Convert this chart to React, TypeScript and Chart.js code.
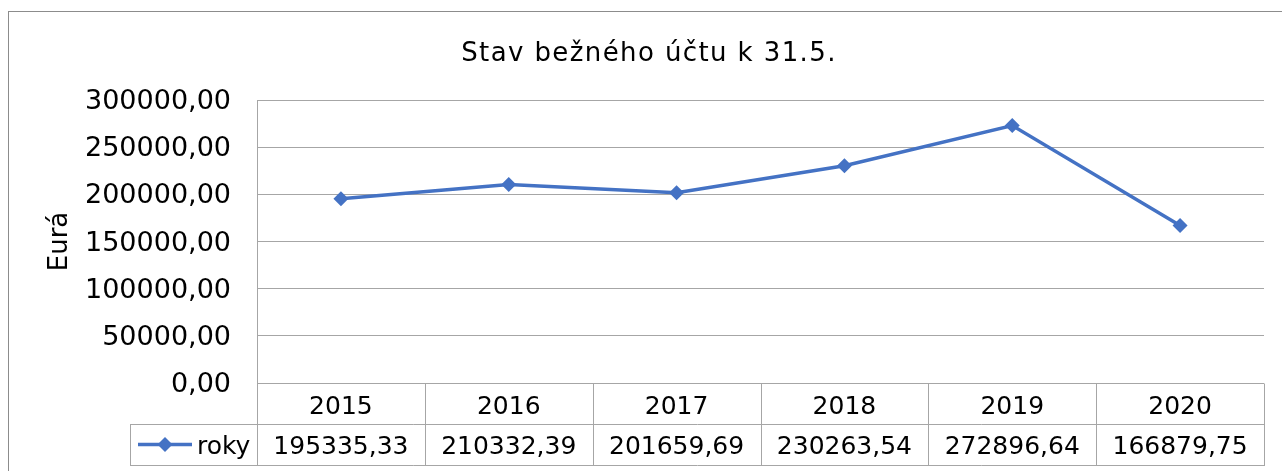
import React, { useEffect, useRef } from "react";
import { Chart, registerables } from "chart.js";

Chart.register(...registerables);

const chartTitle = "Stav bežného účtu k 31.5.";
const yAxisTitle = "Eurá";
const seriesName = "roky";
const categories = ["2015", "2016", "2017", "2018", "2019", "2020"];
const values = [195335.33, 210332.39, 201659.69, 230263.54, 272896.64, 166879.75];
const yMin = 0;
const yMax = 300000;
const yStep = 50000;

const LINE_COLOR = "#4472C4";
const GRID_COLOR = "#a6a6a6";
const FRAME_COLOR = "#8c8c8c";
const TEXT_COLOR = "#000000";
const FONT = "'DejaVu Sans', sans-serif";

const fmt = (v: number) => v.toFixed(2).replace(".", ",");

const al = (v: number) => Math.round(v) + 0.5;

function drawDiamond(ctx: CanvasRenderingContext2D, x: number, y: number, r: number) {
  ctx.beginPath();
  ctx.moveTo(x, y - r);
  ctx.lineTo(x + r, y);
  ctx.lineTo(x, y + r);
  ctx.lineTo(x - r, y);
  ctx.closePath();
  ctx.fill();
}

const framePlugin = {
  id: "frameAndTitle",
  beforeDraw(chart: any) {
    const { ctx } = chart;
    ctx.save();
    ctx.fillStyle = "#ffffff";
    ctx.fillRect(0, 0, chart.width, chart.height);
    ctx.strokeStyle = FRAME_COLOR;
    ctx.lineWidth = 1;
    ctx.strokeRect(8.5, 11.5, chart.width + 20, chart.height + 20);
    ctx.fillStyle = TEXT_COLOR;
    ctx.font = `26px ${FONT}`;
    (ctx as any).letterSpacing = "1.4px";
    ctx.textAlign = "center";
    ctx.textBaseline = "alphabetic";
    ctx.fillText(chartTitle, 649, 61);
    ctx.restore();
  },
};

const tablePlugin = {
  id: "dataTable",
  afterDraw(chart: any) {
    const { ctx, chartArea } = chart;
    const xs = chart.scales.x;
    const n = categories.length;
    const colW = xs.getPixelForValue(1) - xs.getPixelForValue(0);
    const top = chartArea.bottom;
    const rowH = 41;
    const mid = top + rowH;
    const bottom = top + rowH * 2;
    const legendLeft = 130;
    const right = chartArea.right;

    ctx.save();
    ctx.strokeStyle = GRID_COLOR;
    ctx.lineWidth = 1;
    ctx.beginPath();
    ctx.moveTo(legendLeft, al(mid));
    ctx.lineTo(right + 1, al(mid));
    ctx.moveTo(legendLeft, al(bottom));
    ctx.lineTo(right + 1, al(bottom));
    ctx.moveTo(al(legendLeft), al(mid));
    ctx.lineTo(al(legendLeft), al(bottom));
    for (let i = 0; i <= n; i++) {
      const bx = i < n ? xs.getPixelForValue(i) - colW / 2 : xs.getPixelForValue(n - 1) + colW / 2;
      ctx.moveTo(al(bx), al(top));
      ctx.lineTo(al(bx), al(bottom));
    }
    ctx.stroke();

    ctx.fillStyle = TEXT_COLOR;
    ctx.font = `25px ${FONT}`;
    ctx.textAlign = "center";
    ctx.textBaseline = "alphabetic";
    for (let i = 0; i < n; i++) {
      const cx = xs.getPixelForValue(i);
      ctx.fillText(categories[i], cx, top + 30.5);
      ctx.fillText(fmt(values[i]), cx, mid + 30);
    }

    const ly = mid + rowH / 2;
    ctx.strokeStyle = LINE_COLOR;
    ctx.lineWidth = 3.5;
    ctx.beginPath();
    ctx.moveTo(138, ly);
    ctx.lineTo(192, ly);
    ctx.stroke();
    ctx.fillStyle = LINE_COLOR;
    drawDiamond(ctx, 165, ly, 7.5);
    ctx.fillStyle = TEXT_COLOR;
    ctx.textAlign = "left";
    ctx.fillText(seriesName, 197, mid + 30);
    ctx.restore();
  },
};

export default function App() {
  const canvasRef = useRef<HTMLCanvasElement | null>(null);

  useEffect(() => {
    const canvas = canvasRef.current;
    if (!canvas) return;
    const chart = new Chart(canvas, {
      type: "line",
      data: {
        labels: categories,
        datasets: [
          {
            label: seriesName,
            data: values,
            borderColor: LINE_COLOR,
            backgroundColor: LINE_COLOR,
            borderWidth: 3.5,
            pointStyle: "rectRot",
            pointRadius: 7.5,
            pointBorderWidth: 0,
            pointBackgroundColor: LINE_COLOR,
            tension: 0,
          },
        ],
      },
      options: {
        responsive: false,
        animation: false,
        devicePixelRatio: 1,
        layout: { padding: { left: 8, top: 100, right: 18, bottom: 88 } },
        plugins: {
          legend: { display: false },
          title: { display: false },
          tooltip: { enabled: false },
        },
        scales: {
          x: {
            type: "category",
            display: false,
            offset: true,
          },
          y: {
            min: yMin,
            max: yMax,
            afterFit: (scale: any) => {
              scale.width = 249;
            },
            ticks: {
              stepSize: yStep,
              padding: 26,
              labelOffset: 2,
              color: TEXT_COLOR,
              font: { family: FONT, size: 27 },
              callback: (v: any) => fmt(Number(v)),
            },
            grid: {
              color: GRID_COLOR,
              lineWidth: 1,
              drawTicks: false,
            },
            border: { display: true, color: GRID_COLOR, width: 1 },
            title: {
              display: true,
              text: yAxisTitle,
              color: TEXT_COLOR,
              font: { family: FONT, size: 26 },
              padding: { top: 37, bottom: 0 },
            },
          },
        },
      },
      plugins: [framePlugin, tablePlugin],
    });
    return () => chart.destroy();
  }, []);

  return (
    <div style={{ position: "absolute", left: 0, top: 0, width: 1282, height: 471 }}>
      <canvas ref={canvasRef} width={1282} height={471} style={{ display: "block" }} />
    </div>
  );
}
